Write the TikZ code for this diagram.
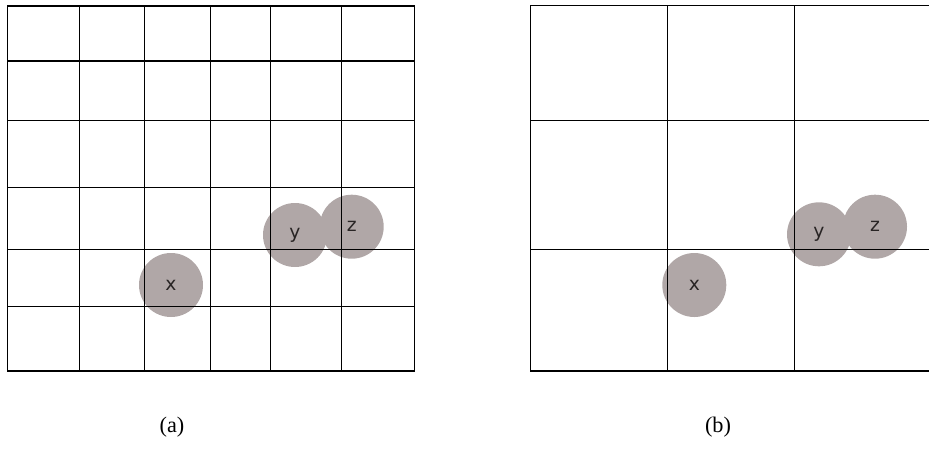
\documentclass[tikz,border=0pt]{standalone}
\usepackage{fontspec}
\setmainfont{Liberation Serif}
\newfontfamily\dotfont{DejaVu Sans}
\definecolor{dotGrey}{RGB}{176,167,167}
\definecolor{dotInk}{RGB}{40,36,36}
\tikzset{
  gridline/.style={draw=black,line width=1pt,line cap=rect},
  dot/.style={circle,fill=dotGrey,minimum size=1.92cm,inner sep=0pt,text=dotInk,
    font=\dotfont\fontsize{16}{16}\selectfont},
  caption/.style={font=\fontsize{19}{19}\selectfont}
}
\begin{document}
\begin{tikzpicture}[x=0.03cm,y=-0.03cm]
  \useasboundingbox (0,0) rectangle (929,467);
  % the points, under the lines
  \node[dot] (xa) at (171,285) {x};
  \node[dot] (ya) at (295,235) {y};
  \node[dot] (za) at (351.7,226.7) {z};
  \node[dot] (xb) at (694.3,285) {x};
  \node[dot] (yb) at (819,234.3) {y};
  \node[dot] (zb) at (875,226.7) {z};
  % (a) fine grid
  \foreach \xp in {7.3,79.7,144.3,210.3,270.7,341.7,414.3}
    \draw[gridline] (\xp,6) -- (\xp,371);
  \foreach \yp in {6,61,120.7,187.3,249.7,306.7,371}
    \draw[gridline] (7.3,\yp) -- (414.3,\yp);
  % (b) coarse grid
  \foreach \xp in {530.3,667.7,794.3}
    \draw[gridline] (\xp,5.7) -- (\xp,371);
  \foreach \yp in {5.7,120.7,249.7,371}
    \draw[gridline] (530.3,\yp) -- (929,\yp);
  \node[caption] (capa) at (172,427) {(a)};
  \node[caption] (capb) at (718,427) {(b)};
\end{tikzpicture}
\end{document}
